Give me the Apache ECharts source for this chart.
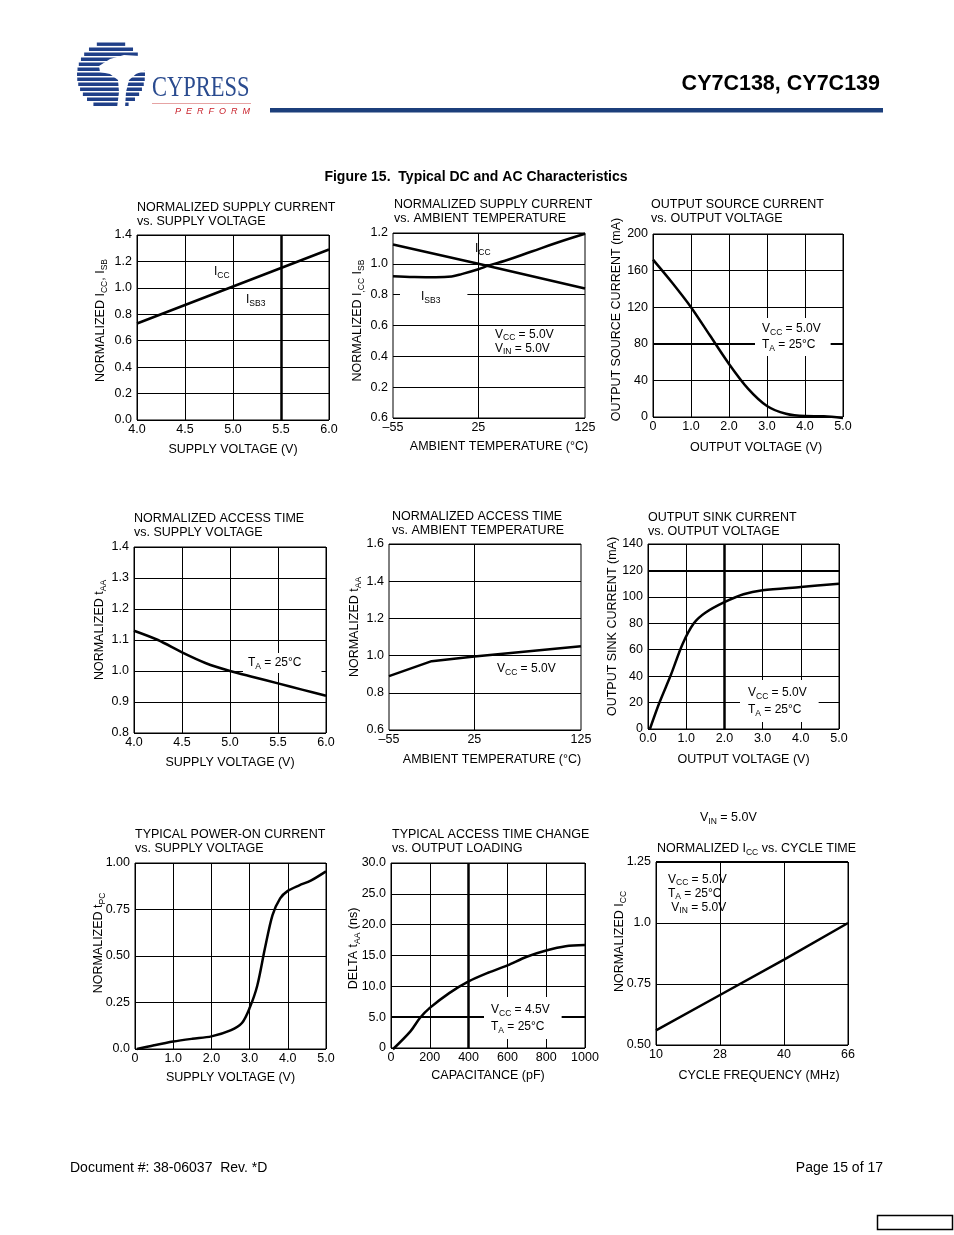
<!DOCTYPE html>
<html><head><meta charset="utf-8">
<script src="https://cdn.jsdelivr.net/npm/echarts@6/dist/echarts.min.js"></script>
<style>html,body{margin:0;padding:0;background:#fff}#c{width:954px;height:1235px}</style>
</head><body><div id="c"></div>
<script>
// ---------------- data ----------------
// 1. Normalized supply current vs supply voltage
const supplyV1 = [4.0, 4.5, 5.0, 5.5, 6.0];
const iccVsV = [0.73, 0.87, 1.01, 1.15, 1.29];
// 2. Normalized supply current vs ambient temperature
const tempIcc = [-55, 25, 125];
const iccVsT = [1.125, 1.0, 0.84];
const tempIsb = [-55, -35, -15, 0, 10, 25, 35, 50, 75, 100, 125];
const isbVsT = [0.92, 0.915, 0.913, 0.918, 0.935, 0.965, 0.99, 1.02, 1.08, 1.14, 1.195];
const yTicks2 = ['0.6', '0.2', '0.4', '0.6', '0.8', '1.0', '1.2'];
const tempTicks = [-55, 25, 125];
// 3. Output source current vs output voltage
const srcV = [0, 0.5, 1.0, 1.5, 2.0, 2.5, 3.0, 3.5, 4.0, 4.5, 5.0];
const srcI = [172, 147, 120, 89, 58, 31, 12, 3.5, 1, 0.8, -1];
const xTicks3 = ['0', '1.0', '2.0', '3.0', '4.0', '5.0'];
// 4. Normalized access time vs supply voltage
const aaV = [4.0, 4.25, 4.5, 4.75, 5.0, 5.25, 5.5, 5.75, 6.0];
const aaVsV = [1.13, 1.10, 1.06, 1.025, 1.0, 0.98, 0.96, 0.94, 0.92];
// 5. Normalized access time vs ambient temperature
const aaT = [-55, -15, 25, 125];
const aaVsT = [0.89, 0.97, 0.995, 1.05];
// 6. Output sink current vs output voltage
const sinkV = [0.05, 0.3, 0.6, 0.9, 1.2, 1.5, 2.0, 2.5, 3.0, 4.0, 5.0];
const sinkI = [0, 20, 41, 64, 80, 88, 96, 102, 105, 107.5, 110];
const xTicks6 = ['0.0', '1.0', '2.0', '3.0', '4.0', '5.0'];
// 7. Typical power-on current vs supply voltage
const pcV = [0.05, 0.5, 1.0, 1.5, 2.0, 2.5, 2.8, 3.0, 3.2, 3.4, 3.6, 3.8, 4.0, 4.3, 4.6, 5.0];
const pcI = [0, 0.02, 0.04, 0.055, 0.068, 0.1, 0.14, 0.22, 0.34, 0.54, 0.72, 0.81, 0.85, 0.88, 0.905, 0.955];
const yTicks7 = ['0.0', '0.25', '0.50', '0.75', '1.00'];
const xTicks7 = ['0', '1.0', '2.0', '3.0', '4.0', '5.0'];
// 8. Typical access time change vs output loading
const loadC = [10, 100, 150, 200, 300, 400, 500, 600, 700, 800, 900, 1000];
const loadT = [-0.2, 2.7, 4.9, 6.5, 8.9, 10.8, 12.2, 13.4, 14.8, 15.8, 16.5, 16.7];
const yTicks8 = ['0', '5.0', '10.0', '15.0', '20.0', '25.0', '30.0'];
// 9. Normalized ICC vs cycle time
const cycleFreq = ['10', '28', '40', '66'];
const iccVsF = [0.56, 0.705, 0.85, 1.0];
const yTicks9 = ['0.50', '0.75', '1.0', '1.25'];

// ---------------- styling helpers ----------------
const F = "'Liberation Sans', Arial, Helvetica, sans-serif";
const RICH = { s: { fontSize: 8.5, fontFamily: F, color: '#000', fill: '#000', verticalAlign: 'bottom', lineHeight: 10 } };

function grid(l, t, w, h) {
  return { left: l, top: t, width: w, height: h, show: true, borderColor: '#000', borderWidth: 1, containLabel: false, outerBoundsMode: 'none' };
}
function axis(o) {
  const base = {
    gridIndex: o.i, type: o.type || 'value', min: o.min, max: o.max, interval: o.interval,
    axisLine: { show: false }, axisTick: { show: false },
    axisLabel: { color: '#000', fontSize: 12.5, fontFamily: F, margin: o.margin || 4, showMinLabel: true, showMaxLabel: true, hideOverlap: false, formatter: o.fmt },
    splitLine: { show: o.split !== false, lineStyle: { color: '#000', width: 1 } },
    name: o.name, nameLocation: 'middle', nameGap: o.gap, nameMoveOverlap: false,
    nameTextStyle: { color: '#000', fontSize: 12.5, fontFamily: F, lineHeight: 16, rich: RICH, padding: o.npad || 0 }
  };
  if (o.custom) base.axisLabel.customValues = o.custom;
  if (o.data) { base.data = o.data; base.boundaryGap = false; base.axisLabel.interval = 0; base.splitLine.interval = 0; }
  return base;
}
function line(i, xs, ys, smooth, marks) {
  const s = {
    type: 'line', xAxisIndex: i, yAxisIndex: i, symbol: 'none', smooth: smooth || false, clip: false, silent: true,
    data: xs.map((x, k) => [x, ys[k]]), lineStyle: { color: '#000', width: 2.5 }, z: 3
  };
  if (marks) s.markLine = { silent: true, symbol: 'none', label: { show: false }, animation: false, lineStyle: { color: '#000', type: 'solid', width: 2.5 }, data: marks };
  return s;
}
function T(x, y, text, o, extra) {
  return Object.assign({ type: 'text', x: x, y: y, z: 100, silent: true,
    style: Object.assign({ text: text, fill: '#000', fontSize: 12, fontFamily: F, verticalAlign: 'middle', align: 'left', lineHeight: 14, rich: RICH }, o || {}) }, extra || {});
}

// ---------------- chart ----------------
const chart = echarts.init(document.getElementById('c'), null, { renderer: 'canvas' });

const grids = [
  grid(137, 235, 192, 185),
  grid(393, 233, 192, 185),
  grid(653, 234, 190, 183),
  grid(134, 547, 192, 186),
  grid(389, 544, 192, 186),
  grid(648, 544, 191, 185),
  grid(135, 863, 191, 186),
  grid(391, 863, 194, 185),
  grid(656, 862, 192, 183)
];

const xAxes = [
  axis({ i: 0, min: 4, max: 6, interval: 0.5, fmt: v => v.toFixed(1), name: 'SUPPLY VOLTAGE (V)', gap: 22, margin: 3 }),
  axis({ i: 1, min: -55, max: 125, split: false, custom: tempTicks, fmt: v => v < 0 ? '\u2013' + (-v) : String(v), name: 'AMBIENT TEMPERATURE (\u00B0C)', gap: 21, margin: 3, npad: [0, 0, 0, 20] }),
  axis({ i: 2, min: 0, max: 5, interval: 1, fmt: v => xTicks3[Math.round(v)], name: 'OUTPUT VOLTAGE (V)', gap: 23, margin: 3, npad: [0, 0, 0, 16] }),
  axis({ i: 3, min: 4, max: 6, interval: 0.5, fmt: v => v.toFixed(1), name: 'SUPPLY VOLTAGE (V)', gap: 22, margin: 3 }),
  axis({ i: 4, min: -55, max: 125, split: false, custom: tempTicks, fmt: v => v < 0 ? '\u2013' + (-v) : String(v), name: 'AMBIENT TEMPERATURE (\u00B0C)', gap: 22, margin: 3, npad: [0, 0, 0, 14] }),
  axis({ i: 5, min: 0, max: 5, interval: 1, fmt: v => xTicks6[Math.round(v)], name: 'OUTPUT VOLTAGE (V)', gap: 23, margin: 3 }),
  axis({ i: 6, min: 0, max: 5, interval: 1, fmt: v => xTicks7[Math.round(v)], name: 'SUPPLY VOLTAGE (V)', gap: 21, margin: 3 }),
  axis({ i: 7, min: 0, max: 1000, interval: 200, fmt: v => String(v), name: 'CAPACITANCE (pF)', gap: 20, margin: 3 }),
  axis({ i: 8, type: 'category', data: cycleFreq, name: 'CYCLE FREQUENCY (MHz)', gap: 23, margin: 3, npad: [0, 0, 0, 14] })
];

const yAxes = [
  axis({ i: 0, min: 0, max: 1.4, interval: 0.2, fmt: v => v.toFixed(1), name: 'NORMALIZED I{s|CC}, I{s|SB}', gap: 28, margin: 5, npad: [0, 0, 0, 14] }),
  axis({ i: 1, min: 0, max: 1.2, interval: 0.2, fmt: v => yTicks2[Math.round(v / 0.2)], name: 'NORMALIZED I{s|,CC} I{s|SB}', gap: 27, margin: 5, npad: [0, 0, 0, 10] }),
  axis({ i: 2, min: 0, max: 200, interval: 40, fmt: v => String(v), name: 'OUTPUT SOURCE CURRENT (mA)', gap: 28, margin: 5, npad: [0, 0, 0, 12] }),
  axis({ i: 3, min: 0.8, max: 1.4, interval: 0.1, fmt: v => v.toFixed(1), name: 'NORMALIZED t{s|AA}', gap: 26, margin: 5, npad: [0, 0, 0, 20] }),
  axis({ i: 4, min: 0.6, max: 1.6, interval: 0.2, fmt: v => v.toFixed(1), name: 'NORMALIZED t{s|AA}', gap: 26, margin: 5, npad: [0, 0, 0, 20] }),
  axis({ i: 5, min: 0, max: 140, interval: 20, fmt: v => String(v), name: 'OUTPUT SINK CURRENT (mA)', gap: 27, margin: 5, npad: [0, 0, 0, 20] }),
  axis({ i: 6, min: 0, max: 1.0, interval: 0.25, fmt: v => yTicks7[Math.round(v / 0.25)], name: 'NORMALIZED t{s|PC}', gap: 28, margin: 5, npad: [0, 0, 0, 26] }),
  axis({ i: 7, min: 0, max: 30, interval: 5, fmt: v => yTicks8[Math.round(v / 5)], name: 'DELTA t{s|AA} (ns)', gap: 29, margin: 5, npad: [0, 0, 0, 14] }),
  axis({ i: 8, min: 0.5, max: 1.25, interval: 0.25, fmt: v => yTicks9[Math.round((v - 0.5) / 0.25)], name: 'NORMALIZED I{s|CC}', gap: 28, margin: 5, npad: [0, 0, 0, 24] })
];

const series = [
  line(0, supplyV1, iccVsV, false, [{ xAxis: 5.5 }]),
  line(1, tempIcc, iccVsT, false, [{ xAxis: 25, lineStyle: { width: 1 } }]),
  line(1, tempIsb, isbVsT, 0.4),
  line(2, srcV, srcI, 0.3, [{ yAxis: 80, lineStyle: { width: 2 } }]),
  line(3, aaV, aaVsV, 0.3),
  line(4, aaT, aaVsT, false, [{ xAxis: 25, lineStyle: { width: 1 } }]),
  line(5, sinkV, sinkI, 0.3, [{ xAxis: 2, lineStyle: { width: 2.5 } }, { yAxis: 120, lineStyle: { width: 2 } }]),
  line(6, pcV, pcI, 0.3),
  line(7, loadC, loadT, 0.3, [{ xAxis: 400, lineStyle: { width: 2.5 } }, { yAxis: 5, lineStyle: { width: 2 } }]),
  line(8, cycleFreq, iccVsF, false, [{ yAxis: 1.25, lineStyle: { width: 2 } }])
];

// logo stripes (decorative)
const logo = [];
const lcx = 111, lcy = 75, lr = 34;
for (let k = 0; k < 13; k++) {
  const y0 = 42.5 + k * 5, dy = y0 + 1.6 - lcy;
  const hw = Math.sqrt(Math.max(0, lr * lr - dy * dy));
  logo.push({ type: 'rect', z: 50, silent: true, shape: { x: lcx - hw, y: y0, width: 2 * hw, height: 3.4 }, style: { fill: '#1f3f88' } });
}
logo.push({ type: 'polygon', z: 51, silent: true, shape: { points: [[99, 66], [110, 59], [124, 55], [140, 56], [156, 58], [170, 62], [160, 66], [146, 70], [136, 74], [129, 80], [126, 92], [125, 108], [117, 108], [119, 92], [118, 80], [110, 74], [100, 72]] }, style: { fill: '#fff' } });

const graphics = logo.concat([
  T(152, 88, 'CYPRESS', { fontSize: 30, fontFamily: "'Liberation Serif', 'DejaVu Serif', serif", fill: '#2a4b8f', lineHeight: 30 }, { scaleX: 0.75 }),
  { type: 'rect', z: 50, silent: true, shape: { x: 152, y: 103, width: 99, height: 1 }, style: { fill: '#e6a3a3' } },
  T(175, 111, 'P  E  R  F  O  R  M', { fontSize: 9, fontStyle: 'italic', fill: '#c8202a' }),
  T(880, 84, 'CY7C138, CY7C139', { fontSize: 21.5, fontWeight: 'bold', align: 'right', lineHeight: 24 }),
  { type: 'rect', z: 50, silent: true, shape: { x: 270, y: 108, width: 613, height: 4.5 }, style: { fill: '#1c3f7b' } },
  T(476, 177, 'Figure 15.  Typical DC and AC Characteristics', { fontSize: 14, fontWeight: 'bold', align: 'center' }),
  T(70, 1168, 'Document #: 38-06037  Rev. *D', { fontSize: 14 }),
  T(883, 1168, 'Page 15 of 17', { fontSize: 14, align: 'right' }),
  { type: 'rect', z: 50, silent: true, shape: { x: 877.5, y: 1215.5, width: 75, height: 14 }, style: { fill: 'none', stroke: '#000', lineWidth: 1.5 } },

  // chart titles
  T(137, 215, 'NORMALIZED SUPPLY CURRENT\nvs. SUPPLY VOLTAGE', { fontSize: 12.5 }),
  T(394, 212, 'NORMALIZED SUPPLY CURRENT\nvs. AMBIENT TEMPERATURE', { fontSize: 12.5 }),
  T(651, 212, 'OUTPUT SOURCE CURRENT\nvs. OUTPUT VOLTAGE', { fontSize: 12.5 }),
  T(134, 526, 'NORMALIZED ACCESS TIME\nvs. SUPPLY VOLTAGE', { fontSize: 12.5 }),
  T(392, 523.5, 'NORMALIZED ACCESS TIME\nvs. AMBIENT TEMPERATURE', { fontSize: 12.5 }),
  T(648, 525, 'OUTPUT SINK CURRENT\nvs. OUTPUT VOLTAGE', { fontSize: 12.5 }),
  T(135, 842, 'TYPICAL POWER-ON CURRENT\nvs. SUPPLY VOLTAGE', { fontSize: 12.5 }),
  T(392, 842, 'TYPICAL ACCESS TIME CHANGE\nvs. OUTPUT LOADING', { fontSize: 12.5 }),
  T(657, 849, 'NORMALIZED I{s|CC} vs. CYCLE TIME', { fontSize: 12.5, lineHeight: 16 }),
  T(700, 818, 'V{s|IN} = 5.0V', { fontSize: 12.5, lineHeight: 16 }),

  // annotations
  T(214, 272, 'I{s|CC}', { lineHeight: 16 }),
  T(246, 300, 'I{s|SB3}', { lineHeight: 16 }),
  T(475, 249, 'I{s|CC}', { lineHeight: 16 }),
  T(400, 297, 'I{s|SB3}', { lineHeight: 16, backgroundColor: '#fff', padding: [2, 27, 2, 21] }),
  T(495, 342, 'V{s|CC} = 5.0V\nV{s|IN} = 5.0V', { lineHeight: 14 }),
  T(755, 337, 'V{s|CC} = 5.0V\nT{s|A} = 25\u00B0C', { lineHeight: 16, backgroundColor: '#fff', padding: [3, 10, 3, 7] }),
  T(243, 663, 'T{s|A} = 25\u00B0C', { lineHeight: 16, backgroundColor: '#fff', padding: [2, 20, 2, 5] }),
  T(497, 669, 'V{s|CC} = 5.0V', { lineHeight: 16 }),
  T(740, 701, 'V{s|CC} = 5.0V\nT{s|A} = 25\u00B0C', { lineHeight: 17, backgroundColor: '#fff', padding: [4, 12, 4, 8] }),
  T(484, 1018, 'V{s|CC} = 4.5V\nT{s|A} = 25\u00B0C', { lineHeight: 17, backgroundColor: '#fff', padding: [4, 12, 4, 7] }),
  T(668, 894, 'V{s|CC} = 5.0V\nT{s|A} = 25\u00B0C\n V{s|IN} = 5.0V', { lineHeight: 14 })
]);

chart.setOption({
  animation: false,
  backgroundColor: '#fff',
  grid: grids,
  xAxis: xAxes,
  yAxis: yAxes,
  series: series,
  graphic: { elements: graphics }
});
</script></body></html>
